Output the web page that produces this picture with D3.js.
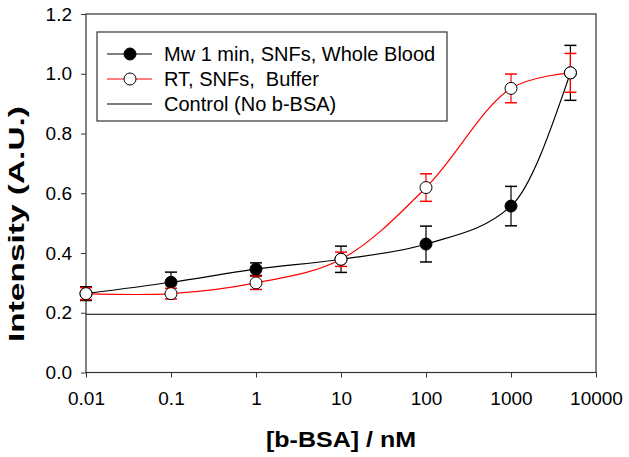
<!DOCTYPE html>
<html>
<head>
<meta charset="utf-8">
<script src="https://cdn.jsdelivr.net/npm/d3@7/dist/d3.min.js"></script>
<style>
  html, body { margin: 0; padding: 0; background: #fff; }
  svg { display: block; font-family: "Liberation Sans", Arial, sans-serif; }
</style>
</head>
<body>
<svg id="chart" width="629" height="457"></svg>
<script>
// ---- data ----
const concentrations = [0.01, 0.1, 1, 10, 100, 1000, 5000];
const wholeBloodValues = [0.264, 0.302, 0.346, 0.379, 0.430, 0.557, 1.003];
const wholeBloodErrors = [0.023, 0.034, 0.021, 0.044, 0.060, 0.066, 0.092];
const bufferValues = [0.264, 0.264, 0.300, 0.379, 0.619, 0.951, 1.003];
const bufferErrors = [0.020, 0.018, 0.022, 0.024, 0.046, 0.048, 0.065];
const controlValue = 0.195;
const xTickValues = [0.01, 0.1, 1, 10, 100, 1000, 10000];
const xTickLabels = ["0.01", "0.1", "1", "10", "100", "1000", "10000"];
const yTickValues = [0, 0.2, 0.4, 0.6, 0.8, 1.0, 1.2];
const yTickLabels = ["0.0", "0.2", "0.4", "0.6", "0.8", "1.0", "1.2"];
const legendLabels = ["Mw 1 min, SNFs, Whole Blood", "RT, SNFs,  Buffer", "Control (No b-BSA)"];

// ---- layout ----
const svg = d3.select("#chart");
const L = 86, R = 596, T = 14, B = 372.5;
const x = d3.scaleLog().domain([0.01, 10000]).range([L, R]);
const y = d3.scaleLinear().domain([0, 1.2]).range([B, T]);
const frameColor = "#333";

// frame
svg.append("rect").attr("x", L).attr("y", T).attr("width", R - L).attr("height", B - T)
  .attr("fill", "none").attr("stroke", frameColor).attr("stroke-width", 1.2);

// axes
const xAxis = d3.axisBottom(x).tickValues(xTickValues)
  .tickFormat((d, i) => xTickLabels[i]).tickSizeInner(5).tickSizeOuter(0).tickPadding(14);
const gx = svg.append("g").attr("transform", `translate(0,${B})`).call(xAxis);
gx.select(".domain").remove();
gx.selectAll("line").attr("stroke", frameColor);
gx.selectAll("text").attr("font-size", 19).attr("fill", "#000")
  .attr("font-family", "'Liberation Sans', Arial, sans-serif");

const yAxis = d3.axisLeft(y).tickValues(yTickValues)
  .tickFormat((d, i) => yTickLabels[i]).tickSizeInner(5).tickSizeOuter(0).tickPadding(9);
const gy = svg.append("g").attr("transform", `translate(${L},0)`).call(yAxis);
gy.select(".domain").remove();
gy.selectAll("line").attr("stroke", frameColor);
gy.selectAll("text").attr("font-size", 19).attr("fill", "#000")
  .attr("font-family", "'Liberation Sans', Arial, sans-serif");

// axis titles
svg.append("text").attr("x", (L + R) / 2).attr("y", 447).attr("text-anchor", "middle")
  .attr("font-size", 22).attr("font-weight", "bold")
  .attr("textLength", 150).attr("lengthAdjust", "spacingAndGlyphs").text("[b-BSA] / nM");
svg.append("text").attr("transform", `translate(24,224) rotate(-90)`).attr("text-anchor", "middle")
  .attr("font-size", 22).attr("font-weight", "bold")
  .attr("textLength", 236).attr("lengthAdjust", "spacingAndGlyphs").text("Intensity (A.U.)");

// control line
svg.append("line").attr("x1", x(0.01)).attr("x2", x(10000))
  .attr("y1", y(controlValue)).attr("y2", y(controlValue))
  .attr("stroke", "#000").attr("stroke-width", 1.2);

function drawSeries(vals, errs, color, fill, curve) {
  const pts = concentrations.map((c, i) => ({ c, v: vals[i], e: errs[i] }));
  const g = svg.append("g");
  g.append("path").datum(pts)
    .attr("d", d3.line().x(d => x(d.c)).y(d => y(d.v)).curve(curve))
    .attr("fill", "none").attr("stroke", color).attr("stroke-width", 1.2);
  const eb = g.selectAll(".eb").data(pts).enter().append("g");
  eb.append("line").attr("x1", d => x(d.c)).attr("x2", d => x(d.c))
    .attr("y1", d => y(d.v - d.e)).attr("y2", d => y(d.v + d.e))
    .attr("stroke", color).attr("stroke-width", 1.2);
  [-1, 1].forEach(s => {
    eb.append("line").attr("x1", d => x(d.c) - 6).attr("x2", d => x(d.c) + 6)
      .attr("y1", d => y(d.v + s * d.e)).attr("y2", d => y(d.v + s * d.e))
      .attr("stroke", color).attr("stroke-width", 1.5);
  });
  g.selectAll(".pt").data(pts).enter().append("circle")
    .attr("cx", d => x(d.c)).attr("cy", d => y(d.v)).attr("r", 6)
    .attr("fill", fill).attr("stroke", "#000").attr("stroke-width", 1);
}

drawSeries(wholeBloodValues, wholeBloodErrors, "#000", "#000", d3.curveMonotoneX);
drawSeries(bufferValues, bufferErrors, "#ff0000", "#fff", d3.curveCatmullRom.alpha(0.5));

// legend
const lg = svg.append("g");
lg.append("rect").attr("x", 97).attr("y", 32).attr("width", 350).attr("height", 89)
  .attr("fill", "#fff").attr("stroke", frameColor).attr("stroke-width", 1.2);
const legendRows = [
  { color: "#000", fill: "#000", marker: true },
  { color: "#ff0000", fill: "#fff", marker: true },
  { color: "#000", fill: null, marker: false }
];
const rowY = [54, 79, 104];
legendRows.forEach((r, i) => {
  lg.append("line").attr("x1", 107).attr("x2", 152).attr("y1", rowY[i]).attr("y2", rowY[i])
    .attr("stroke", r.color).attr("stroke-width", 1.2);
  if (r.marker) {
    lg.append("circle").attr("cx", 130).attr("cy", rowY[i]).attr("r", 6)
      .attr("fill", r.fill).attr("stroke", "#000");
  }
  lg.append("text").attr("x", 164).attr("y", rowY[i] + 7).attr("font-size", 20)
    .attr("xml:space", "preserve").style("white-space", "pre").text(legendLabels[i]);
});
</script>
</body>
</html>
